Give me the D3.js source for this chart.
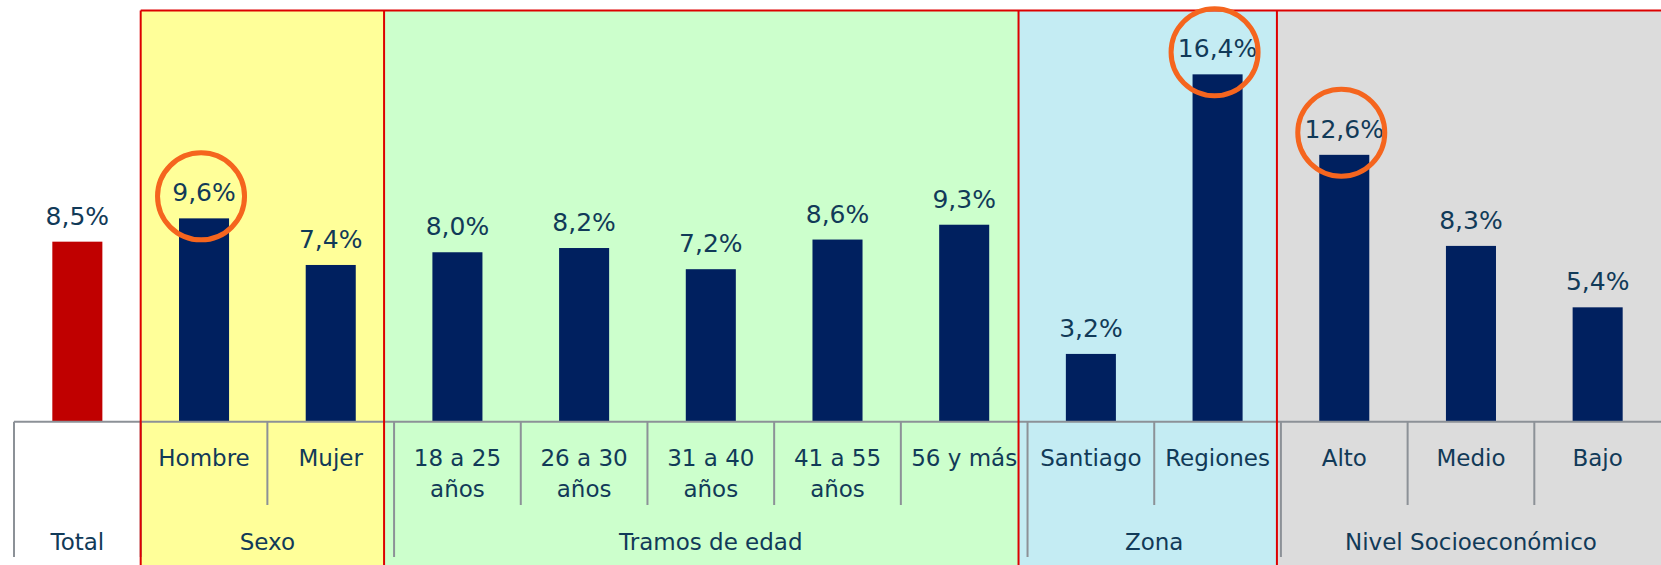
<!DOCTYPE html>
<html lang="es">
<head>
<meta charset="UTF-8">
<title>Indicador por segmento</title>
<script src="https://d3js.org/d3.v7.min.js"></script>
<style>
  body { margin: 0; background: #fff; }
  svg text { font-family: "DejaVu Sans", Verdana, sans-serif; fill: #113a58; }
</style>
</head>
<body>
<svg id="chart" width="1661" height="565"></svg>
<script>
// datos
const categories = ["Total", "Hombre", "Mujer", "18 a 25 años", "26 a 30 años", "31 a 40 años",
  "41 a 55 años", "56 y más", "Santiago", "Regiones", "Alto", "Medio", "Bajo"];
const values = [8.5, 9.6, 7.4, 8.0, 8.2, 7.2, 8.6, 9.3, 3.2, 16.4, 12.6, 8.3, 5.4];
const groupNames = ["Total", "Sexo", "Tramos de edad", "Zona", "Nivel Socioeconómico"];
const groupSizes = [1, 2, 5, 2, 3];
const highlighted = ["Hombre", "Regiones", "Alto"];

const width = 1661, height = 565;
const baseY = 421.7;
const svg = d3.select("#chart");

const x = d3.scaleBand().domain(categories).range([14, width]);
const y = d3.scaleLinear().domain([0, 18]).range([baseY, baseY - 18 * 21.18]);
const bw = x.bandwidth();
const barW = bw * 0.395;

// límites de grupos
let idx = 0;
const groups = groupNames.map((name, i) => {
  const first = categories[idx], last = categories[idx + groupSizes[i] - 1];
  idx += groupSizes[i];
  return { name, x0: x(first), x1: x(last) + bw };
});

// cajas de color
const boxFill = [null, "#ffff99", "#ccffcc", "#c4ecf3", "#dcdcdc"];
const boxNudge = [0, 0, 10, 9, 4];
const boxes = groups.map((g, i) => ({ left: g.x0 - boxNudge[i], fill: boxFill[i] }));
boxes.forEach((b, i) => { b.right = i < boxes.length - 1 ? boxes[i + 1].left : width; });

const boxTop = 10.6;
svg.append("g").selectAll("rect")
  .data(boxes.filter(b => b.fill))
  .enter().append("rect")
  .attr("x", d => d.left).attr("y", boxTop)
  .attr("width", d => d.right - d.left).attr("height", height - boxTop)
  .attr("fill", d => d.fill);

// barras
svg.append("g").selectAll("rect")
  .data(categories)
  .enter().append("rect")
  .attr("x", d => x(d) + (bw - barW) / 2)
  .attr("y", (d, i) => y(values[i]))
  .attr("width", barW)
  .attr("height", (d, i) => y(0) - y(values[i]))
  .attr("fill", (d, i) => i === 0 ? "#c00000" : "#00205f");

// etiquetas de valor
svg.append("g").selectAll("text")
  .data(categories)
  .enter().append("text")
  .attr("x", d => x(d) + bw / 2)
  .attr("y", (d, i) => y(values[i]) - 17)
  .attr("text-anchor", "middle")
  .style("font-size", "25px")
  .text((d, i) => values[i].toFixed(1).replace(".", ",") + "%");

// eje
const axis = svg.append("g").attr("stroke", "#8c9197").attr("stroke-width", 2);
axis.append("line").attr("x1", 14).attr("x2", width).attr("y1", baseY).attr("y2", baseY);
const groupEdges = new Set(groups.map(g => g.x0));
const tickXs = categories.map(c => x(c));
axis.selectAll(".tick")
  .data(tickXs)
  .enter().append("line")
  .attr("x1", d => d).attr("x2", d => d)
  .attr("y1", baseY)
  .attr("y2", d => groupEdges.has(d) ? 557 : 505);

// bordes rojos
const red = svg.append("g").attr("stroke", "#dd0000").attr("stroke-width", 2).attr("fill", "none");
red.append("line").attr("x1", boxes[1].left).attr("x2", width).attr("y1", boxTop).attr("y2", boxTop);
boxes.slice(1).forEach(b => {
  red.append("line").attr("x1", b.left).attr("x2", b.left).attr("y1", boxTop).attr("y2", height);
});

// etiquetas de categoría (con salto de línea)
const catLabels = svg.append("g").selectAll("text")
  .data(categories.slice(1))
  .enter().append("text")
  .attr("x", d => x(d) + bw / 2)
  .attr("y", 466)
  .attr("text-anchor", "middle")
  .style("font-size", "23px")
  .text(d => d);

catLabels.each(function (d) {
  const t = d3.select(this);
  const words = d.split(" ");
  const maxW = bw - 12;
  let line = [], lines = [];
  t.text(null);
  const probe = t.append("tspan");
  words.forEach(w => {
    line.push(w);
    probe.text(line.join(" "));
    if (probe.node().getComputedTextLength() > maxW && line.length > 1) {
      line.pop();
      lines.push(line.join(" "));
      line = [w];
    }
  });
  lines.push(line.join(" "));
  probe.remove();
  lines.forEach((l, k) => {
    t.append("tspan").attr("x", x(d) + bw / 2).attr("dy", k === 0 ? 0 : 31).text(l);
  });
});

// etiquetas de grupo
svg.append("g").selectAll("text")
  .data(groups)
  .enter().append("text")
  .attr("x", d => (d.x0 + d.x1) / 2)
  .attr("y", 550)
  .attr("text-anchor", "middle")
  .style("font-size", "23px")
  .text(d => d.name);

// círculos destacados
svg.append("g").selectAll("circle")
  .data(highlighted)
  .enter().append("circle")
  .attr("cx", d => x(d) + bw / 2 - 3)
  .attr("cy", d => y(values[categories.indexOf(d)]) - 22)
  .attr("r", 43.5)
  .attr("fill", "none")
  .attr("stroke", "#f5651e")
  .attr("stroke-width", 5);
</script>
</body>
</html>
